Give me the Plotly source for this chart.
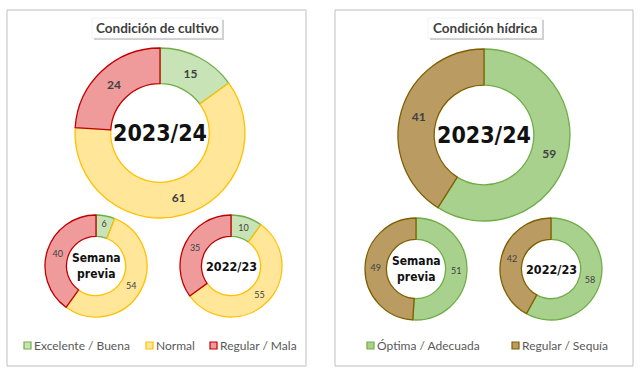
import plotly.graph_objects as go

W, H = 640, 370

# ---- data ----
crop_labels = ["Excelente / Buena", "Normal", "Regular / Mala"]
crop_current = [15, 61, 24]
crop_prev_week = [6, 54, 40]
crop_prev_year = [10, 55, 35]

water_labels = ["Óptima / Adecuada", "Regular / Sequía"]
water_current = [59, 41]
water_prev_week = [51, 49]
water_prev_year = [58, 42]

center_current = "2023/24"
center_prev_week = "Semana<br>previa"
center_prev_year = "2022/23"

crop_title = "Condición de cultivo"
water_title = "Condición hídrica"

crop_fill = ["#C8E4B6", "#FFE699", "#EF9B9B"]
crop_line = ["#70AD47", "#FFC000", "#C00000"]
water_fill = ["#A9D18E", "#BA9C63"]
water_line = ["#70AD47", "#7F6000"]


def px(x):
    return x / W


def py(y):
    return 1 - y / H


def dom(cx, cy, r):
    return dict(x=[px(cx - r), px(cx + r)], y=[py(cy + r), py(cy - r)])


fig = go.Figure()

def add_pie(labels, values, fills, lines, cx, cy, r, fsize, bold):
    fig.add_trace(go.Pie(
        labels=labels, values=values, sort=False, direction="clockwise",
        rotation=0, hole=0.58, domain=dom(cx, cy, r),
        marker=dict(colors=fills, line=dict(color=lines, width=1.3)),
        textinfo="value", textposition="inside",
        insidetextorientation="horizontal",
        textfont=dict(family="Lato", size=fsize, color="#404040",
                      weight="bold" if bold else "normal"),
        showlegend=False, hoverinfo="label+value",
    ))

add_pie(crop_labels, crop_current, crop_fill, crop_line, 160, 133, 85, 12, True)
add_pie(crop_labels, crop_prev_week, crop_fill, crop_line, 96, 266, 51, 9, False)
add_pie(crop_labels, crop_prev_year, crop_fill, crop_line, 231, 266, 51, 9, False)
add_pie(water_labels, water_current, water_fill, water_line, 484, 135, 86, 12, True)
add_pie(water_labels, water_prev_week, water_fill, water_line, 416, 269, 51, 9, False)
add_pie(water_labels, water_prev_year, water_fill, water_line, 551, 269, 51, 9, False)

shapes = []
annotations = []

# panels
for x0, x1 in [(7, 306), (335, 633)]:
    shapes.append(dict(type="rect", xref="paper", yref="paper", layer="below",
                       x0=px(x0), x1=px(x1), y0=py(366), y1=py(10),
                       line=dict(color="#BFBFBF", width=1), fillcolor="white"))

# title boxes
for (x0, x1, text) in [(92, 222, crop_title), (428, 542, water_title)]:
    shapes.append(dict(type="rect", xref="paper", yref="paper",
                       x0=px(x0 + 2), x1=px(x1 + 2), y0=py(40), y1=py(20),
                       line=dict(width=0), fillcolor="rgba(120,120,120,0.35)"))
    shapes.append(dict(type="rect", xref="paper", yref="paper",
                       x0=px(x0), x1=px(x1), y0=py(38), y1=py(18),
                       line=dict(color="#E6E6E6", width=0.5), fillcolor="white"))
    annotations.append(dict(text=text, x=px((x0 + x1) / 2), y=py(28),
                            xref="paper", yref="paper", showarrow=False,
                            xanchor="center", yanchor="middle",
                            font=dict(family="Lato", size=13.5, color="#404040",
                                      weight="bold")))

# center texts
centers = [
    (160, 133, center_current, 23, "bold"),
    (484, 135, center_current, 23, "bold"),
    (96, 266, center_prev_week, 12, "bold"),
    (416, 269, center_prev_week, 12, "bold"),
    (231, 266, center_prev_year, 12.5, "bold"),
    (551, 269, center_prev_year, 12.5, "bold"),
]
for cx, cy, t, s, w in centers:
    annotations.append(dict(text=t, x=px(cx), y=py(cy), xref="paper", yref="paper",
                            showarrow=False, xanchor="center", yanchor="middle",
                            font=dict(family="DejaVu Sans Condensed", size=s,
                                      color="#111111", weight=w)))

# legends
legend_items = [
    (24, crop_labels[0], crop_fill[0], crop_line[0]),
    (146, crop_labels[1], crop_fill[1], crop_line[1]),
    (210, crop_labels[2], crop_fill[2], crop_line[2]),
    (367, water_labels[0], water_fill[0], water_line[0]),
    (512, water_labels[1], water_fill[1], water_line[1]),
]
for x, t, fc, lc in legend_items:
    shapes.append(dict(type="rect", xref="paper", yref="paper",
                       x0=px(x), x1=px(x + 7), y0=py(349), y1=py(342),
                       line=dict(color=lc, width=1.2), fillcolor=fc))
    annotations.append(dict(text=t, x=px(x + 8), y=py(345.5), xref="paper",
                            yref="paper", showarrow=False, xanchor="left",
                            yanchor="middle",
                            font=dict(family="Lato", size=12, color="#595959")))

fig.update_layout(
    width=W, height=H, margin=dict(l=0, r=0, t=0, b=0),
    paper_bgcolor="white", plot_bgcolor="white",
    shapes=shapes, annotations=annotations, showlegend=False,
)

fig.write_html("out.html", config={"displayModeBar": False},
               post_script="document.body.style.margin='0px';document.body.style.overflow='hidden';")
